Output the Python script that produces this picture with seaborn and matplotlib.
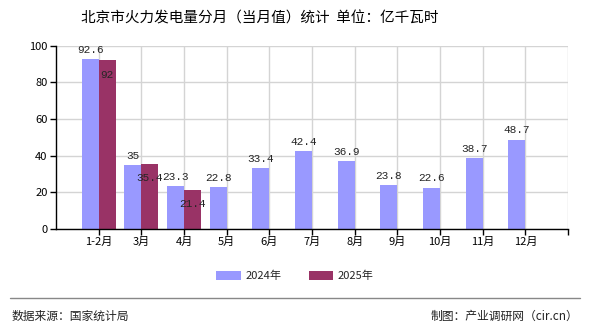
import matplotlib
matplotlib.use("Agg")
import matplotlib.pyplot as plt
import seaborn as sns
import pandas as pd
import numpy as np

categories = ["1-2月", "3月", "4月", "5月", "6月", "7月", "8月", "9月", "10月", "11月", "12月"]
values_2024 = [92.6, 35, 23.3, 22.8, 33.4, 42.4, 36.9, 23.8, 22.6, 38.7, 48.7]
values_2025 = [92, 35.4, 21.4, None, None, None, None, None, None, None, None]
series_names = ["2024年", "2025年"]
colors = ["#9999FF", "#993366"]
title = "北京市火力发电量分月（当月值）统计  单位：亿千瓦时"
source_text = "数据来源：国家统计局"
credit_text = "制图：产业调研网（cir.cn）"

sns.set_theme(style="white")
plt.rcParams['font.family'] = ['Noto Sans CJK SC', 'DejaVu Sans']

rows = []
for c, v in zip(categories, values_2024):
    rows.append({"month": c, "year": series_names[0], "value": v})
for c, v in zip(categories, values_2025):
    rows.append({"month": c, "year": series_names[1], "value": v})
df = pd.DataFrame(rows).dropna()

fig = plt.figure(figsize=(5.9, 3.3), dpi=100)
ax = fig.add_axes([56/590, 1-229/330, (568-56)/590, (229-45.5)/330])

sns.barplot(data=df, x="month", y="value", hue="year", order=categories,
            hue_order=series_names, palette=colors, width=0.8, saturation=1,
            ax=ax, legend=False, edgecolor="none", linewidth=0)

ax.set_xlim(-1, len(categories))
ax.set_ylim(0, 100)
ax.set_yticks([0, 20, 40, 60, 80, 100])
ax.set_xticks(list(range(len(categories) + 1)))
ax.set_xticklabels(categories + [""])
ax.tick_params(axis="both", labelsize=8, length=4, width=1, color="black", direction="out",
               bottom=True, left=True, pad=2)
for lbl in ax.get_xticklabels() + ax.get_yticklabels():
    lbl.set_color("black")
ax.grid(True, color="#d4d4d4", linewidth=1)
ax.set_axisbelow(True)
ax.set_xlabel("")
ax.set_ylabel("")
for s in ["top", "right"]:
    ax.spines[s].set_visible(False)
for s in ["left", "bottom"]:
    ax.spines[s].set_color("black")
    ax.spines[s].set_linewidth(1)

mono = ["Liberation Mono", "DejaVu Sans Mono"]
c24, c25 = ax.containers[0], ax.containers[1]
ax.bar_label(c24, labels=[f"{v:g}" for v in df[df.year == series_names[0]]["value"]],
             padding=3, fontsize=8, family=mono)
ax.bar_label(c25, labels=[f"{v:g}" for v in df[df.year == series_names[1]]["value"]],
             padding=-14, fontsize=8, family=mono)

fig.text(0.44, 0.945, title, ha="center", va="center", fontsize=10.5, color="black")

from matplotlib.patches import Patch
handles = [Patch(facecolor=colors[0], edgecolor="none"), Patch(facecolor=colors[1], edgecolor="none")]
fig.legend(handles, series_names, loc="center", bbox_to_anchor=(0.5, 1-276/330), ncol=2,
           frameon=False, fontsize=8, handlelength=2.2, handleheight=0.9, columnspacing=2.5,
           handletextpad=0.4)

fig.add_artist(plt.Line2D([10/590, 580/590], [1-298/330, 1-298/330], color="#888888", linewidth=1))
fig.text(12/590, 1-316/330, source_text, ha="left", va="center", fontsize=8.5, color="#222222")
fig.text(578/590, 1-316/330, credit_text, ha="right", va="center", fontsize=8.5, color="#222222")

fig.savefig("out.png", dpi=100)
